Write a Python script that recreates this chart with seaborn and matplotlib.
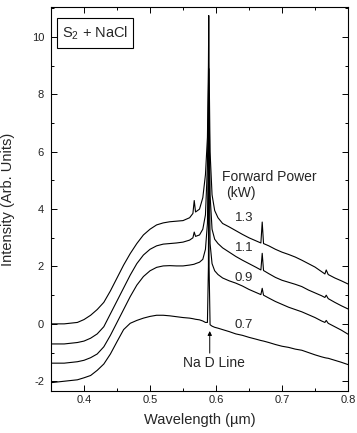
import numpy as np
import pandas as pd
import matplotlib
matplotlib.use("Agg")
import matplotlib.pyplot as plt
import seaborn as sns
from matplotlib.patches import Rectangle
from matplotlib.ticker import MultipleLocator

# ---------------- data ----------------
wavelength = [0.35, 0.37, 0.39, 0.40, 0.41, 0.42, 0.43, 0.44, 0.45, 0.46,
              0.47, 0.48, 0.49, 0.50, 0.51, 0.52, 0.53, 0.54, 0.55, 0.56,
              0.565, 0.567, 0.569, 0.575, 0.580, 0.584, 0.587, 0.5885, 0.589, 0.5895,
              0.591, 0.594, 0.598, 0.603, 0.61, 0.62, 0.63, 0.64, 0.65, 0.66,
              0.668, 0.670, 0.672, 0.68, 0.69, 0.70, 0.71, 0.72, 0.73, 0.74,
              0.75, 0.76, 0.765, 0.767, 0.770, 0.78, 0.79, 0.80]

power_13 = [0.0, 0.0, 0.05, 0.15, 0.3, 0.5, 0.75, 1.15, 1.6, 2.05,
            2.45, 2.8, 3.1, 3.3, 3.45, 3.52, 3.56, 3.58, 3.6, 3.7,
            3.85, 4.3, 3.9, 4.0, 4.4, 5.2, 6.5, 9.0, 10.75, 9.0,
            6.0, 4.5, 3.95, 3.7, 3.5, 3.38, 3.25, 3.12, 3.0, 2.9,
            2.82, 3.55, 2.8, 2.72, 2.6, 2.5, 2.42, 2.33, 2.22, 2.1,
            1.98, 1.82, 1.74, 1.88, 1.72, 1.6, 1.5, 1.39]

power_11 = [-0.7, -0.7, -0.65, -0.6, -0.5, -0.35, -0.1, 0.35, 0.8, 1.25,
            1.7, 2.1, 2.4, 2.6, 2.72, 2.78, 2.8, 2.82, 2.85, 2.92,
            3.0, 3.2, 3.05, 3.1, 3.3, 3.8, 5.5, 8.0, 8.9, 8.0,
            4.5, 3.3, 2.95, 2.8, 2.65, 2.5, 2.35, 2.22, 2.1, 1.98,
            1.88, 2.46, 1.86, 1.75, 1.62, 1.52, 1.45, 1.38, 1.3, 1.18,
            1.08, 0.98, 0.92, 1.0, 0.88, 0.75, 0.63, 0.52]

power_09 = [-1.37, -1.37, -1.32, -1.27, -1.18, -1.05, -0.8, -0.4, 0.05, 0.5,
            0.95, 1.35, 1.65, 1.85, 1.97, 2.02, 2.03, 2.02, 2.02, 2.05,
            2.07, 2.08, 2.1, 2.15, 2.25, 2.6, 3.5, 6.5, 8.0, 6.5,
            2.8, 2.1, 1.85, 1.72, 1.6, 1.5, 1.42, 1.32, 1.2, 1.1,
            1.02, 1.24, 1.0, 0.9, 0.78, 0.68, 0.58, 0.5, 0.42, 0.32,
            0.22, 0.1, 0.05, 0.12, 0.02, -0.1, -0.22, -0.36]

power_07 = [-2.05, -2.0, -1.95, -1.88, -1.8, -1.62, -1.4, -1.05, -0.62, -0.2,
            0.02, 0.12, 0.2, 0.26, 0.3, 0.3, 0.28, 0.25, 0.22, 0.2,
            0.18, 0.17, 0.16, 0.14, 0.1, 0.05, 0.05, 2.0, 6.5, 2.0,
            -0.03, -0.08, -0.12, -0.15, -0.2, -0.27, -0.35, -0.4, -0.47, -0.53,
            -0.58, -0.59, -0.6, -0.65, -0.72, -0.78, -0.82, -0.88, -0.92, -1.0,
            -1.08, -1.15, -1.18, -1.19, -1.2, -1.27, -1.34, -1.42]

series_labels = ["1.3", "1.1", "0.9", "0.7"]
x_ticks = [0.4, 0.5, 0.6, 0.7, 0.8]
y_ticks = [-2, 0, 2, 4, 6, 8, 10]

df = pd.concat([
    pd.DataFrame({"wl": wavelength, "I": vals, "power": lab})
    for vals, lab in zip([power_13, power_11, power_09, power_07], series_labels)
], ignore_index=True)

# ---------------- style ----------------
sns.set_style("ticks")
plt.rcParams["font.family"] = ["Liberation Sans", "DejaVu Sans"]
plt.rcParams["mathtext.fontset"] = "custom"
plt.rcParams["mathtext.rm"] = "Liberation Sans"

fig = plt.figure(figsize=(3.57, 4.33), dpi=100)
ax = fig.add_axes([0.1429, 0.0977, 0.8319, 0.8850])

sns.lineplot(data=df, x="wl", y="I", hue="power", units="power", estimator=None,
             sort=False, palette=["black"] * 4, linewidth=0.8, legend=False, ax=ax)

ax.set_xlim(0.35, 0.8)
ax.set_ylim(-2.33, 11.03)
ax.set_xticks(x_ticks)
ax.set_xticklabels([f"{v:.1f}" for v in x_ticks])
ax.set_yticks(y_ticks)
ax.set_yticklabels([str(v) for v in y_ticks])
ax.xaxis.set_minor_locator(MultipleLocator(0.05))
ax.yaxis.set_minor_locator(MultipleLocator(1))
ax.tick_params(which="both", direction="in", top=True, right=True,
               color="black", width=0.7, labelsize=8, labelcolor="#222222")
ax.tick_params(which="major", length=4)
ax.tick_params(which="minor", length=2)
ax.tick_params(axis="x", pad=3)
ax.tick_params(axis="y", pad=5)
for s in ax.spines.values():
    s.set_linewidth(0.8)
    s.set_color("black")

ax.set_xlabel("Wavelength (\u00b5m)", fontsize=10.5, labelpad=6)
ax.set_ylabel("Intensity (Arb. Units)", fontsize=10.5, labelpad=12)

# annotations
ax.text(0.6095, 5.13, "Forward Power", fontsize=10, va="center", ha="left")
ax.text(0.6157, 4.56, "(kW)", fontsize=10, va="center", ha="left")
label_y = [3.69, 2.65, 1.6, -0.03]
for lab, yy in zip(series_labels, label_y):
    ax.text(0.628, yy, lab, fontsize=9.5, va="center", ha="left")

ax.text(0.5495, -1.36, "Na D Line", fontsize=10, va="center", ha="left")
ax.annotate("", xy=(0.5905, -0.25), xytext=(0.5905, -1.02),
            arrowprops=dict(arrowstyle="-|>", color="black", lw=0.7,
                            mutation_scale=6, shrinkA=0, shrinkB=0))

ax.add_patch(Rectangle((0.021, 0.893), 0.254, 0.079, transform=ax.transAxes,
                       fill=False, edgecolor="black", linewidth=0.8))
ax.text(0.148, 0.932, "S$_2$ + NaCl", transform=ax.transAxes, fontsize=10.5,
        ha="center", va="center")

fig.savefig("out.png", dpi=100)
